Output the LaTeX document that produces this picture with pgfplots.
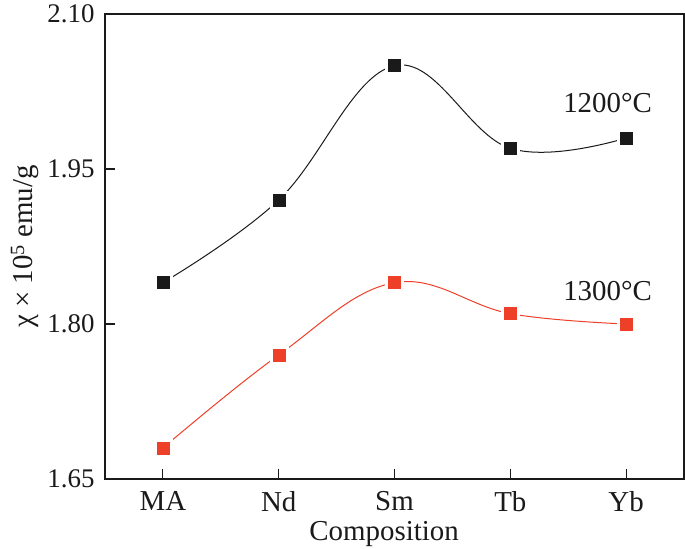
\documentclass[border=0pt]{standalone}
\usepackage{pgfplots}
\pgfplotsset{compat=1.18}
\usepackage{fontspec}
\setmainfont{Liberation Serif}
\definecolor{cblack}{HTML}{1A1A1A}
\definecolor{cred}{HTML}{EE4028}
\begin{document}
\begin{tikzpicture}
\path[use as bounding box] (-105bp,-70bp) rectangle (580bp,479bp);
\begin{axis}[
  at={(0,0)}, anchor=south west,
  scale only axis, width=579bp, height=465bp,
  xmin=-0.5, xmax=4.5, ymin=1.65, ymax=2.10,
  xtick={0,1,2,3,4}, xticklabels={MA,Nd,Sm,Tb,Yb},
  ytick={1.65,1.80,1.95,2.10},
  yticklabel style={font=\fontsize{27}{32}\selectfont, xshift=-7bp, /pgf/number format/fixed, /pgf/number format/fixed zerofill, /pgf/number format/precision=2},
  /pgf/number format/assume math mode=true,
  tick align=inside, major tick length=10bp, tick pos=left,
  axis line style={line width=1.4bp, color=cblack},
  every tick/.style={cblack, line width=1.2bp},
  tick label style={text=cblack},
  xticklabel style={font=\fontsize{29}{34}\selectfont, yshift=-9bp},
  label style={font=\fontsize{29}{34}\selectfont, text=cblack},
  xlabel={Composition},
  xlabel style={at={(axis description cs:0.482,0)}, anchor=base, yshift=-61bp},
  ylabel={χ × 10\textsuperscript{5} emu/g},
  ylabel style={at={(axis description cs:0,0.5)}, anchor=center, yshift=80bp},
  clip=false,
]
\addplot[cblack, line width=1bp, smooth, tension=0.65] coordinates {(0,1.84) (1,1.92) (2,2.05) (3,1.97) (4,1.98)};
\addplot[cred, line width=1bp, smooth, tension=0.65] coordinates {(0,1.68) (1,1.77) (2,1.84) (3,1.81) (4,1.80)};
\addplot[only marks, mark=square*, mark size=9bp, white] coordinates {(0,1.84) (1,1.92) (2,2.05) (3,1.97) (4,1.98)};
\addplot[only marks, mark=square*, mark size=9bp, white] coordinates {(0,1.68) (1,1.77) (2,1.84) (3,1.81) (4,1.80)};
\addplot[only marks, mark=square*, mark size=6bp, cblack] coordinates {(0,1.84) (1,1.92) (2,2.05) (3,1.97) (4,1.98)};
\addplot[only marks, mark=square*, mark size=6bp, cred] coordinates {(0,1.68) (1,1.77) (2,1.84) (3,1.81) (4,1.80)};
\node[font=\fontsize{29}{34}\selectfont, text=cblack] at (axis cs:3.84,2.014) {1200°C};
\node[font=\fontsize{29}{34}\selectfont, text=cblack] at (axis cs:3.84,1.832) {1300°C};
\end{axis}
\end{tikzpicture}
\end{document}
